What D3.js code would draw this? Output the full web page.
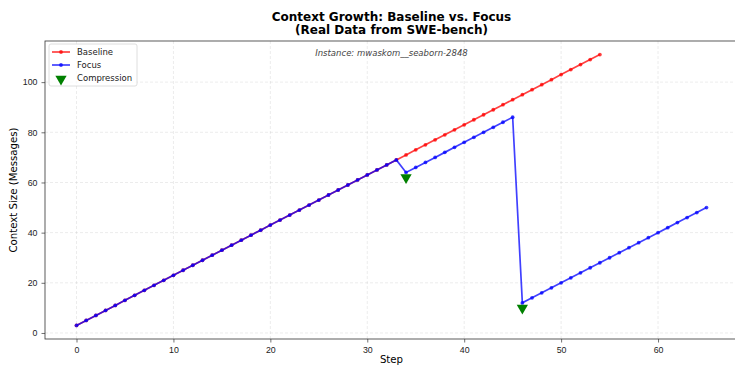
<!DOCTYPE html>
<html>
<head>
<meta charset="utf-8">
<script src="https://cdn.jsdelivr.net/npm/d3@7"></script>
<style>
  body { margin: 0; background: #fff; }
  svg { font-family: 'DejaVu Sans', sans-serif; }
  .grid line { stroke: #b0b0b0; stroke-opacity: 0.35; stroke-dasharray: 3,2; stroke-width: 0.7; }
  .tick text { font-size: 8.8px; fill: #222; }
</style>
</head>
<body>
<svg id="chart" width="735" height="366"></svg>
<script>
//////////////////////////////////////////////////////////////////////////////
// Data
//////////////////////////////////////////////////////////////////////////////

var baseline_steps = [0,1,2,3,4,5,6,7,8,9,10,11,12,13,14,15,16,17,18,19,20,21,22,23,24,25,26,27,
  28,29,30,31,32,33,34,35,36,37,38,39,40,41,42,43,44,45,46,47,48,49,50,51,52,53,54]
var baseline_values = [3,5,7,9,11,13,15,17,19,21,23,25,27,29,31,33,35,37,39,41,43,45,47,49,51,53,
  55,57,59,61,63,65,67,69,71,73,75,77,79,81,83,85,87,89,91,93,95,97,99,101,103,105,107,109,111]

var focus_steps = [0,1,2,3,4,5,6,7,8,9,10,11,12,13,14,15,16,17,18,19,20,21,22,23,24,25,26,27,
  28,29,30,31,32,33,34,35,36,37,38,39,40,41,42,43,44,45,46,47,48,49,50,51,52,53,54,55,56,57,
  58,59,60,61,62,63,64,65]
var focus_values = [3,5,7,9,11,13,15,17,19,21,23,25,27,29,31,33,35,37,39,41,43,45,47,49,51,53,
  55,57,59,61,63,65,67,69,64,66,68,70,72,74,76,78,80,82,84,86,12,14,16,18,20,22,24,26,28,30,
  32,34,36,38,40,42,44,46,48,50]

var compression_steps = [34, 46]
var compression_values = [62, 10]

var x_ticks = [0, 10, 20, 30, 40, 50, 60]
var y_ticks = [0, 20, 40, 60, 80, 100]

//////////////////////////////////////////////////////////////////////////////
// Layout
//////////////////////////////////////////////////////////////////////////////

var margin = {left: 45, right: -3, top: 41, bottom: 27}
var width = 735 - margin.left - margin.right
var height = 366 - margin.top - margin.bottom

var svg = d3.select('#chart')
var g = svg.append('g')
  .attr('transform', 'translate(' + margin.left + ',' + margin.top + ')')

var x = d3.scaleLinear().domain([-3.25, 68.25]).range([0, width])
var y = d3.scaleLinear().domain([-2.4, 116.4]).range([height, 0])

// Grid
g.append('g').attr('class', 'grid')
  .selectAll('line').data(x_ticks).enter().append('line')
  .attr('x1', d => x(d)).attr('x2', d => x(d))
  .attr('y1', 0).attr('y2', height)
g.append('g').attr('class', 'grid')
  .selectAll('line').data(y_ticks).enter().append('line')
  .attr('x1', 0).attr('x2', width)
  .attr('y1', d => y(d)).attr('y2', d => y(d))

// Axes
var x_axis = g.append('g')
  .attr('transform', 'translate(0,' + height + ')')
  .call(d3.axisBottom(x).tickValues(x_ticks).tickSizeOuter(0).tickSize(3.5).tickPadding(4))
var y_axis = g.append('g')
  .call(d3.axisLeft(y).tickValues(y_ticks).tickSizeOuter(0).tickSize(3.5).tickPadding(4))
x_axis.select('.domain').remove()
y_axis.select('.domain').remove()
svg.selectAll('.tick line').attr('stroke', '#333').attr('stroke-width', 0.7)

// Frame
g.append('rect')
  .attr('width', width).attr('height', height)
  .attr('fill', 'none').attr('stroke', '#333').attr('stroke-width', 0.8)

//////////////////////////////////////////////////////////////////////////////
// Series
//////////////////////////////////////////////////////////////////////////////

function draw_series(steps, values, color, opacity) {
  var pts = steps.map((s, i) => [s, values[i]])
  var series = g.append('g')
  series.append('path')
    .datum(pts)
    .attr('fill', 'none')
    .attr('stroke', color)
    .attr('stroke-opacity', opacity)
    .attr('stroke-width', 1.7)
    .attr('d', d3.line().x(d => x(d[0])).y(d => y(d[1])))
  series.selectAll('circle').data(pts).enter().append('circle')
    .attr('cx', d => x(d[0])).attr('cy', d => y(d[1]))
    .attr('r', 1.9)
    .attr('fill', color)
    .attr('fill-opacity', opacity)
}

draw_series(baseline_steps, baseline_values, '#ff0000', 0.75)
draw_series(focus_steps, focus_values, '#0000ff', 0.75)

// Compression markers
var tri = d3.symbol().type(d3.symbolTriangle).size(55)
g.selectAll('.compression').data(compression_steps).enter().append('path')
  .attr('class', 'compression')
  .attr('d', tri)
  .attr('fill', '#008000')
  .attr('transform', (d, i) => 'translate(' + x(d) + ',' + y(compression_values[i]) + ') rotate(180)')

//////////////////////////////////////////////////////////////////////////////
// Text
//////////////////////////////////////////////////////////////////////////////

var cx = margin.left + width / 2
svg.append('text').attr('x', cx).attr('y', 21)
  .attr('text-anchor', 'middle').attr('font-size', '12px').attr('font-weight', 'bold')
  .text('Context Growth: Baseline vs. Focus')
svg.append('text').attr('x', cx).attr('y', 34)
  .attr('text-anchor', 'middle').attr('font-size', '12px').attr('font-weight', 'bold')
  .text('(Real Data from SWE-bench)')

svg.append('text').attr('x', cx).attr('y', 56)
  .attr('text-anchor', 'middle').attr('font-size', '8.5px').attr('font-style', 'italic')
  .attr('fill', '#444')
  .text('Instance: mwaskom__seaborn-2848')

svg.append('text').attr('x', cx).attr('y', 363)
  .attr('text-anchor', 'middle').attr('font-size', '10.2px')
  .text('Step')
svg.append('text')
  .attr('transform', 'translate(17,' + (margin.top + height / 2) + ') rotate(-90)')
  .attr('text-anchor', 'middle').attr('font-size', '10.2px')
  .text('Context Size (Messages)')

// Legend
var legend = svg.append('g').attr('transform', 'translate(49,44)')
legend.append('rect')
  .attr('width', 88).attr('height', 42).attr('rx', 2)
  .attr('fill', '#fff').attr('fill-opacity', 0.8)
  .attr('stroke', '#d6d6d6').attr('stroke-width', 0.8)

var legend_items = [
  {label: 'Baseline', color: '#ff0000', opacity: 0.75, kind: 'line'},
  {label: 'Focus', color: '#0000ff', opacity: 0.75, kind: 'line'},
  {label: 'Compression', color: '#008000', opacity: 1, kind: 'tri'}
]
legend_items.forEach(function(item, i) {
  var row = legend.append('g').attr('transform', 'translate(0,' + (8 + i * 13) + ')')
  if (item.kind == 'line') {
    row.append('line').attr('x1', 3).attr('x2', 21).attr('y1', 0).attr('y2', 0)
      .attr('stroke', item.color).attr('stroke-opacity', item.opacity).attr('stroke-width', 1.7)
    row.append('circle').attr('cx', 12).attr('cy', 0).attr('r', 1.9)
      .attr('fill', item.color).attr('fill-opacity', item.opacity)
  } else {
    row.append('path').attr('d', tri).attr('fill', item.color)
      .attr('transform', 'translate(12,1) rotate(180)')
  }
  row.append('text').attr('x', 28).attr('y', 3)
    .attr('font-size', '8.5px').attr('fill', '#222')
    .text(item.label)
})
</script>
</body>
</html>
